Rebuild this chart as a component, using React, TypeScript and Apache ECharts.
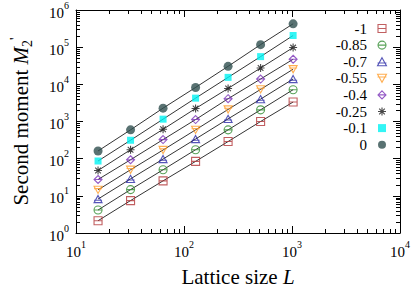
import React, { useEffect, useRef } from "react";
import * as echarts from "echarts";

// Lattice sizes (x)
const latticeSizes = [16, 32, 64, 128, 256, 512, 1024];

// Series names (legend labels)
const seriesNames = ["-1", "-0.85", "-0.7", "-0.55", "-0.4", "-0.25", "-0.1", "0"];

// Second moment values
const m2_m1 = [2.14, 7.45, 25.3, 84.5, 289, 1000, 3340];
const m2_m085 = [4.15, 14.7, 50.3, 174, 596, 2060, 7180];
const m2_m07 = [8.2, 28.6, 97.7, 338, 1177, 4000, 13900];
const m2_m055 = [14.5, 50.3, 171, 596, 2110, 7310, 25500];
const m2_m04 = [27.5, 93.5, 326, 1127, 4100, 13900, 47300];
const m2_m025 = [48, 174, 618, 2240, 7760, 27500, 97700];
const m2_m01 = [86.5, 313, 1156, 4250, 15400, 55700, 206000];
const m2_0 = [161, 596, 2286, 8240, 30500, 117000, 425000];

const allValues = [m2_m1, m2_m085, m2_m07, m2_m055, m2_m04, m2_m025, m2_m01, m2_0];

// Axis tick decades
const xDecades = [10, 100, 1000];
const yDecades = [1, 10, 100, 1000, 10000, 100000];
const minorMultipliers = [2, 3, 4, 5, 6, 7, 8, 9];

const colors = ["#b2373a", "#2e8b2e", "#2a2aa6", "#ff9a26", "#7a32b8", "#1a1a1a", "#00f2f2", "#2f4f4f"];

const symbols = [
  "path://M0,0L10,0L10,10L0,10Z M0,5L10,5",
  "path://M10,5A5,5,0,1,1,0,5A5,5,0,1,1,10,5Z M0,5L10,5",
  "path://M5,0L10,9L0,9Z M0,6L10,6",
  "path://M0,0L10,0L5,9Z M0,3L10,3",
  "path://M5,0L10,5L5,10L0,5Z M0,5L10,5",
  "path://M0,5L10,5 M5,0L5,10 M1.5,1.5L8.5,8.5 M1.5,8.5L8.5,1.5",
  "path://M0,0L10,0L10,10L0,10Z",
  "path://M10,5A5,5,0,1,1,0,5A5,5,0,1,1,10,5Z",
];
const symbolSizes = [8, 8, 8, 8, 8, 8, 7, 9];
const filled = [false, false, false, false, false, false, true, true];

const FONT = "'Liberation Serif', 'Times New Roman', serif";

const powLabel = (v: number) => {
  const e = Math.round(Math.log10(v));
  return `{b|10}{s|${e}}`;
};

const labelRich = {
  b: { fontSize: 15, fontFamily: FONT, color: "#000", lineHeight: 20, verticalAlign: "bottom" },
  s: { fontSize: 10, fontFamily: FONT, color: "#000", lineHeight: 10, verticalAlign: "top" },
};

export default function App() {
  const ref = useRef<HTMLDivElement>(null);
  useEffect(() => {
    if (!ref.current) return;
    const chart = echarts.init(ref.current, undefined, { renderer: "svg" });

    const xMinor: number[][] = [];
    xDecades.forEach((d) => minorMultipliers.forEach((m) => xMinor.push([d * m, 1])));
    const yMinor: number[][] = [];
    yDecades.forEach((d) => minorMultipliers.forEach((m) => yMinor.push([10, d * m])));

    const tickLine = (x1: number, y1: number, x2: number, y2: number) => ({
      type: "line",
      shape: { x1, y1, x2, y2 },
      style: { stroke: "#000", lineWidth: 1 },
    });

    const axisCommon = {
      type: "log",
      logBase: 10,
      axisLine: { show: true, lineStyle: { color: "#000", width: 1 } },
      axisTick: { show: true, inside: true, length: 7, lineStyle: { color: "#000", width: 1 } },
      splitLine: { show: false },
      minorTick: { show: false },
    };

    const lineSeries = allValues.map((vals, i) => ({
      name: "fit " + seriesNames[i],
      type: "line",
      data: latticeSizes.map((L, j) => [L, vals[j]]),
      showSymbol: false,
      symbol: "none",
      lineStyle: { color: "#000", width: 0.8 },
      z: 1,
      silent: true,
    }));

    const scatterSeries = allValues.map((vals, i) => ({
      name: seriesNames[i],
      type: "scatter",
      data: latticeSizes.map((L, j) => [L, vals[j]]),
      symbol: symbols[i],
      symbolSize: symbolSizes[i],
      symbolKeepAspect: true,
      itemStyle: filled[i]
        ? { color: colors[i], borderWidth: 0 }
        : { color: "rgba(255,255,255,0)", borderColor: colors[i], borderWidth: 1.1 },
      z: 3,
    }));

    chart.setOption({
      animation: false,
      backgroundColor: "#fff",
      grid: { left: 60, right: 15, top: 10, bottom: 53, containLabel: false },
      legend: {
        data: seriesNames,
        orient: "vertical",
        align: "right",
        right: 28,
        top: 21,
        padding: 0,
        itemWidth: 20,
        itemHeight: 8,
        itemGap: 1.6,
        selectedMode: false,
        itemStyle: { borderWidth: 1.1 },
        textStyle: { fontSize: 15, fontFamily: FONT, color: "#000", lineHeight: 15 },
      },
      xAxis: [
        {
          ...axisCommon,
          position: "bottom",
          min: 10,
          max: 10000,
          splitNumber: 3,
          axisLabel: {
            formatter: powLabel,
            rich: labelRich,
            margin: 6,
            showMinLabel: true,
            showMaxLabel: true,
          },
          name: "Lattice size {i|L}",
          nameLocation: "middle",
          nameGap: 33,
          nameTextStyle: {
            fontSize: 21,
            fontFamily: FONT,
            color: "#000",
            rich: { i: { fontSize: 21, fontFamily: FONT, fontStyle: "italic", color: "#000" } },
          },
        },
        {
          ...axisCommon,
          position: "top",
          min: 10,
          max: 10000,
          splitNumber: 3,
          axisLabel: { show: false },
        },
      ],
      yAxis: [
        {
          ...axisCommon,
          position: "left",
          min: 1,
          max: 1000000,
          splitNumber: 6,
          axisLabel: {
            formatter: powLabel,
            rich: labelRich,
            margin: 7,
            showMinLabel: true,
            showMaxLabel: true,
          },
          name: "Second moment {i|M}{sub|2}{sup|'}",
          nameLocation: "middle",
          nameGap: 42,
          nameRotate: 90,
          nameTextStyle: {
            fontSize: 21,
            fontFamily: FONT,
            color: "#000",
            lineHeight: 26,
            rich: {
              i: { fontSize: 21, fontFamily: FONT, fontStyle: "italic", color: "#000", lineHeight: 26 },
              sub: { fontSize: 14, fontFamily: FONT, color: "#000", lineHeight: 14, verticalAlign: "bottom" },
              sup: { fontSize: 14, fontFamily: FONT, color: "#000", lineHeight: 14, verticalAlign: "top" },
            },
          },
        },
        {
          ...axisCommon,
          position: "right",
          min: 1,
          max: 1000000,
          splitNumber: 6,
          axisLabel: { show: false },
        },
      ],
      series: [
        ...lineSeries,
        ...scatterSeries,
        {
          name: "xMinorTicks",
          type: "custom",
          silent: true,
          clip: false,
          data: xMinor,
          renderItem: (params: any, api: any) => {
            const x = Math.round(api.coord([api.value(0), 1])[0]) + 0.5;
            const cs = params.coordSys;
            const yb = cs.y + cs.height;
            const yt = cs.y;
            return {
              type: "group",
              children: [tickLine(x, yb, x, yb - 4), tickLine(x, yt, x, yt + 4)],
            };
          },
          z: 5,
        },
        {
          name: "yMinorTicks",
          type: "custom",
          silent: true,
          clip: false,
          data: yMinor,
          renderItem: (params: any, api: any) => {
            const y = Math.round(api.coord([10, api.value(1)])[1]) + 0.5;
            const cs = params.coordSys;
            const xl = cs.x;
            const xr = cs.x + cs.width;
            return {
              type: "group",
              children: [tickLine(xl, y, xl + 4, y), tickLine(xr, y, xr - 4, y)],
            };
          },
          z: 5,
        },
      ],
    });
    return () => chart.dispose();
  }, []);
  return <div ref={ref} style={{ position: "fixed", left: 0, top: 0, width: 415, height: 292 }} />;
}
